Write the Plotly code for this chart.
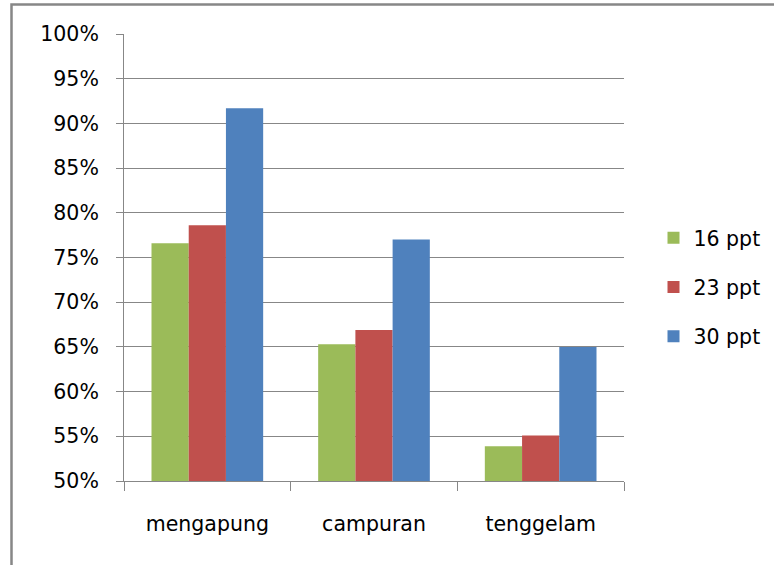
import plotly.graph_objects as go

categories = ["mengapung", "campuran", "tenggelam"]
series_names = ["16 ppt", "23 ppt", "30 ppt"]
values_16 = [0.766, 0.653, 0.539]
values_23 = [0.786, 0.669, 0.551]
values_30 = [0.917, 0.770, 0.650]
colors = ["#9BBB59", "#C0504D", "#4F81BD"]
y_ticks = [0.50, 0.55, 0.60, 0.65, 0.70, 0.75, 0.80, 0.85, 0.90, 0.95, 1.00]

FONT = "DejaVu Sans"
fig = go.Figure()
for i, (name, vals) in enumerate(zip(series_names, [values_16, values_23, values_30])):
    fig.add_trace(go.Bar(x=categories, y=vals, name=name, marker_color=colors[i],
                         marker_line_width=0, legendgroup=name))

fig.update_layout(
    width=774, height=565,
    margin=dict(l=124, r=150, t=34, b=84, autoexpand=False),
    paper_bgcolor="white", plot_bgcolor="white",
    barmode="group", bargap=0.33, bargroupgap=0,
    font=dict(family=FONT, size=20.5, color="#000000"),
    legend=dict(x=1.059, xanchor="left", y=0.434, yanchor="middle",
                traceorder="grouped", tracegroupgap=19.5,
                font=dict(family=FONT, size=20.5, color="#000000"),
                bgcolor="rgba(0,0,0,0)"),
    shapes=[dict(type="rect", xref="paper", yref="paper",
                 x0=-0.225, x1=1.4, y0=-0.3, y1=1.066,
                 line=dict(color="#878787", width=2.5), layer="below")],
)
fig.update_yaxes(range=[0.5, 1.0], tickvals=y_ticks, tickformat=".0%",
                 showgrid=True, gridcolor="#878787", gridwidth=1,
                 showline=True, linecolor="#878787", linewidth=1,
                 ticks="outside", ticklen=7, tickcolor="#878787",
                 ticklabelstandoff=13, zeroline=False)
fig.update_xaxes(showline=True, linecolor="#878787", linewidth=1,
                 ticks="outside", ticklen=9, tickcolor="#878787",
                 tickson="boundaries", ticklabelstandoff=24)

fig.write_html("out.html")
